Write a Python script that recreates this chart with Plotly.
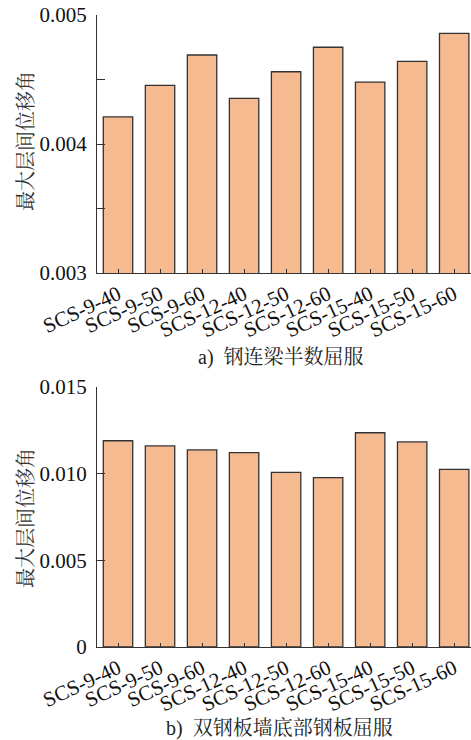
import plotly.graph_objects as go

categories = ["SCS-9-40", "SCS-9-50", "SCS-9-60", "SCS-12-40", "SCS-12-50",
              "SCS-12-60", "SCS-15-40", "SCS-15-50", "SCS-15-60"]
drift_a = [0.00421, 0.004455, 0.00469, 0.004354, 0.00456, 0.00475, 0.00448, 0.00464, 0.004858]
drift_b = [0.0119, 0.0116, 0.01137, 0.01121, 0.01008, 0.00977, 0.01236, 0.01183, 0.01025]

yticks_a = [0.003, 0.0035, 0.004, 0.0045, 0.005]
yticklabels_a = ["0.003", "", "0.004", "", "0.005"]
yticks_b = [0, 0.005, 0.010, 0.015]
yticklabels_b = ["0", "0.005", "0.010", "0.015"]

ytitle = "最大层间位移角"
caption_a = "a)  钢连梁半数屈服"
caption_b = "b)  双钢板墙底部钢板屈服"

FONT = "Liberation Serif, Times New Roman, Noto Serif CJK SC, Noto Sans CJK SC, serif"
BAR = "#F6BA90"
EDGE = "#333333"

xs = list(range(len(categories)))

fig = go.Figure()
fig.add_trace(go.Bar(x=xs, y=drift_a, width=0.7, marker=dict(color=BAR, line=dict(color=EDGE, width=1.3)),
                     xaxis="x", yaxis="y", showlegend=False))
fig.add_trace(go.Bar(x=xs, y=drift_b, width=0.7, marker=dict(color=BAR, line=dict(color=EDGE, width=1.3)),
                     xaxis="x2", yaxis="y2", showlegend=False))

xcommon = dict(range=[-0.5, 8.4], tickvals=xs, ticktext=categories, tickangle=-25,
               ticks="inside", ticklen=4, tickcolor=EDGE, showline=True, linecolor=EDGE, linewidth=1.3,
               showgrid=False, zeroline=False, tickfont=dict(family=FONT, size=21, color="#111"))
ycommon = dict(ticks="inside", ticklen=8, tickcolor=EDGE, showline=True, linecolor=EDGE, linewidth=1.3,
               showgrid=False, zeroline=False, ticklabelstandoff=5,
               tickfont=dict(family=FONT, size=21, color="#111"))

top_bottom = (647 - 273) / 632
bot_top = (647 - 387) / 632

fig.update_layout(
    width=471, height=740,
    margin=dict(l=97, r=0, t=15, b=93),
    plot_bgcolor="white", paper_bgcolor="white",
    bargap=0.3,
    xaxis=dict(domain=[0, 1], anchor="y", **xcommon),
    yaxis=dict(domain=[top_bottom, 1], anchor="x", range=[0.003, 0.005],
               tickvals=yticks_a, ticktext=yticklabels_a, **ycommon),
    xaxis2=dict(domain=[0, 1], anchor="y2", **xcommon),
    yaxis2=dict(domain=[0, bot_top], anchor="x2", range=[0, 0.015],
                tickvals=yticks_b, ticktext=yticklabels_b, **ycommon),
    annotations=[
        dict(text=caption_a, xref="paper", yref="paper", x=(281 - 97) / 374, y=(647 - 357) / 632,
             xanchor="center", yanchor="middle", showarrow=False,
             font=dict(family=FONT, size=20, color="#222")),
        dict(text=caption_b, xref="paper", yref="paper", x=(279 - 97) / 374, y=(647 - 728) / 632,
             xanchor="center", yanchor="middle", showarrow=False,
             font=dict(family=FONT, size=20, color="#222")),
        dict(text=ytitle, xref="paper", yref="paper", x=(26 - 97) / 374, y=(647 - 141) / 632,
             xanchor="center", yanchor="middle", textangle=-90, showarrow=False,
             font=dict(family=FONT, size=20, color="#333")),
        dict(text=ytitle, xref="paper", yref="paper", x=(26 - 97) / 374, y=(647 - 518) / 632,
             xanchor="center", yanchor="middle", textangle=-90, showarrow=False,
             font=dict(family=FONT, size=20, color="#333")),
    ],
)

fig.write_html("out.html", config={"displayModeBar": False},
               post_script="document.body.style.margin='0';document.body.style.overflow='hidden';")
